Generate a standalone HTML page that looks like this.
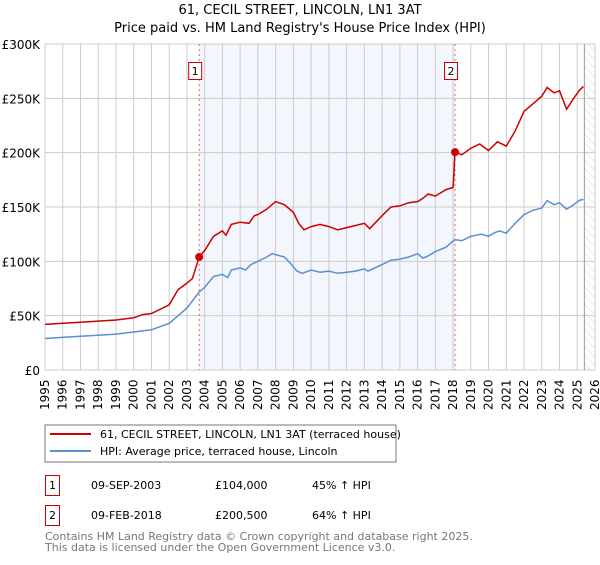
<!DOCTYPE html>
<html><head><meta charset="utf-8"><style>
body{margin:0;background:#fff;font-family:"Liberation Sans","DejaVu Sans",sans-serif;}
svg text{font-family:"DejaVu Sans","Liberation Sans",sans-serif;}
</style></head><body>
<svg id="c" width="600" height="560" xmlns="http://www.w3.org/2000/svg">
<defs><pattern id="hatch" width="6" height="6" patternUnits="userSpaceOnUse" patternTransform="rotate(-45)"><line x1="0" y1="0" x2="0" y2="6" stroke="#ccc" stroke-width="0.8"/></pattern></defs>
<text x="300" y="14" text-anchor="middle" font-size="13" fill="#000">61, CECIL STREET, LINCOLN, LN1 3AT</text>
<text x="300" y="32" text-anchor="middle" font-size="13" fill="#000">Price paid vs. HM Land Registry's House Price Index (HPI)</text>
<g id="plot"></g>
<rect x="45" y="425" width="351" height="37" fill="#fff" stroke="#777"/>
<line x1="50" y1="434" x2="91" y2="434" stroke="#cc0000" stroke-width="2"/>
<text x="100" y="438" font-size="11">61, CECIL STREET, LINCOLN, LN1 3AT (terraced house)</text>
<line x1="50" y1="451" x2="91" y2="451" stroke="#5b8fd0" stroke-width="2"/>
<text x="100" y="455" font-size="11">HPI: Average price, terraced house, Lincoln</text>
<g>
<rect x="45.5" y="475.5" width="14" height="20" fill="#fff" stroke="#cc0000"/>
<text x="52.5" y="489" font-size="11" text-anchor="middle">1</text>
<text x="91" y="489" font-size="11">09-SEP-2003</text>
<text x="215" y="489" font-size="11">£104,000</text>
<text x="312" y="489" font-size="11">45% ↑ HPI</text></g>
<g>
<rect x="45.5" y="505.5" width="14" height="20" fill="#fff" stroke="#cc0000"/>
<text x="52.5" y="519" font-size="11" text-anchor="middle">2</text>
<text x="91" y="519" font-size="11">09-FEB-2018</text>
<text x="215" y="519" font-size="11">£200,500</text>
<text x="312" y="519" font-size="11">64% ↑ HPI</text></g>
<text x="45" y="540" font-size="11" fill="#777">Contains HM Land Registry data © Crown copyright and database right 2025.</text>
<text x="45" y="551" font-size="11" fill="#777">This data is licensed under the Open Government Licence v3.0.</text>
</svg>
<script>
const hpiYears=[1995,1996,1997,1998,1999,2000,2001,2002,2003,2003.7,2004,2004.5,2005,2005.3,2005.5,2006,2006.3,2006.6,2007,2007.5,2007.8,2008.5,2008.9,2009.2,2009.5,2010,2010.5,2011,2011.5,2012,2012.5,2013,2013.2,2014,2014.5,2015,2015.5,2016,2016.3,2016.6,2017,2017.6,2018.1,2018.5,2019,2019.6,2020,2020.3,2020.6,2021,2021.5,2022,2022.5,2023,2023.3,2023.7,2024,2024.4,2024.8,2025.1,2025.35];
const hpiValues=[29,30,31,32,33,35,37,43,57,72,76,86,88,85,92,94,92,97,100,104,107,104,97,91,89,92,90,91,89,90,91,93,91,97,101,102,104,107,103,105,109,113,120,119,123,125,123,126,128,126,135,143,147,149,156,152,154,148,152,156,157];
const priceYears=[1995,1996,1997,1998,1999,2000,2000.5,2001,2002,2002.5,2003,2003.3,2003.69,2004,2004.5,2005,2005.2,2005.5,2006,2006.5,2006.8,2007,2007.5,2008,2008.5,2009,2009.3,2009.6,2010,2010.5,2011,2011.5,2012,2012.5,2013,2013.3,2014,2014.5,2015,2015.5,2016,2016.3,2016.6,2017,2017.6,2018.0,2018.11,2018.5,2019,2019.5,2020,2020.5,2021,2021.5,2022,2022.5,2023,2023.3,2023.7,2024,2024.4,2024.8,2025.1,2025.35];
const priceValues=[42,43,44,45,46,48,51,52,60,74,80,84,104,110,123,128,124,134,136,135,142,143,148,155,152,145,135,129,132,134,132,129,131,133,135,130,142,150,151,154,155,158,162,160,166,168,200.5,198,204,208,202,210,206,220,238,245,252,260,255,257,240,250,257,261];
const saleYears=[2003.69,2018.11];
const saleValues=[104,200.5];
const saleLabels=["1","2"];
const yTicks=[0,50,100,150,200,250,300];
const yTickLabels=["£0","£50K","£100K","£150K","£200K","£250K","£300K"];
const xStart=1995,xEnd=2026,dataEnd=2025.4;
const NS="http://www.w3.org/2000/svg";
const L=45,R=595,T=44,B=370;
const X=y=>L+(y-xStart)/(xEnd-xStart)*(R-L);
const Y=v=>B-v/300*(B-T);
const g=document.getElementById('plot');
function mk(t,a){const e=document.createElementNS(NS,t);for(const k in a)e.setAttribute(k,a[k]);g.appendChild(e);return e;}
let e=mk('rect',{x:X(saleYears[0]),y:T,width:X(saleYears[1])-X(saleYears[0]),height:B-T,fill:'#f3f6fd'});


e=mk('rect',{x:X(dataEnd),y:T,width:R-X(dataEnd),height:B-T,fill:'url(#hatch)'});


for(let y=xStart;y<=xEnd;y++){
 e=mk('line',{x1:X(y),x2:X(y),y1:T,y2:B,stroke:'#ccc','stroke-width':1});
 
 
 e=mk('text',{transform:`translate(${X(y)+4},${B+40}) rotate(-90)`,'font-size':12});
 e.textContent=y;
 
 
}
yTicks.forEach((v,i)=>{
 e=mk('line',{x1:L,x2:R,y1:Y(v),y2:Y(v),stroke:'#ccc','stroke-width':1});
 
 
 e=mk('text',{x:40,y:Y(v)+5,'text-anchor':'end','font-size':12});
 e.textContent=yTickLabels[i];
 
 
});
e=mk('line',{x1:X(dataEnd),x2:X(dataEnd),y1:T,y2:B,stroke:'#999'});


saleYears.forEach((yr,i)=>{
 e=mk('line',{x1:X(yr),x2:X(yr),y1:T,y2:B,stroke:'#f06060','stroke-dasharray':'2,3'});
 
 
 e=mk('rect',{x:X(yr)-10.5,y:62.5,width:13,height:17,fill:'#fff',stroke:'#cc0000'});
 
 
 e=mk('text',{x:X(yr)-4,y:75,'text-anchor':'middle','font-size':11});
 e.textContent=saleLabels[i];
 
 
});
const pts=(xs,vs)=>xs.map((x,i)=>X(x).toFixed(1)+','+Y(vs[i]).toFixed(1)).join(' ');
e=mk('polyline',{points:pts(hpiYears,hpiValues),fill:'none',stroke:'#5b8fd0','stroke-width':1.5});


e=mk('polyline',{points:pts(priceYears,priceValues),fill:'none',stroke:'#cc0000','stroke-width':1.5});


saleYears.forEach((yr,i)=>{
 e=mk('circle',{cx:X(yr),cy:Y(saleValues[i]),r:4,fill:'#cc0000'});
 
 
});
</script>
</body></html>
